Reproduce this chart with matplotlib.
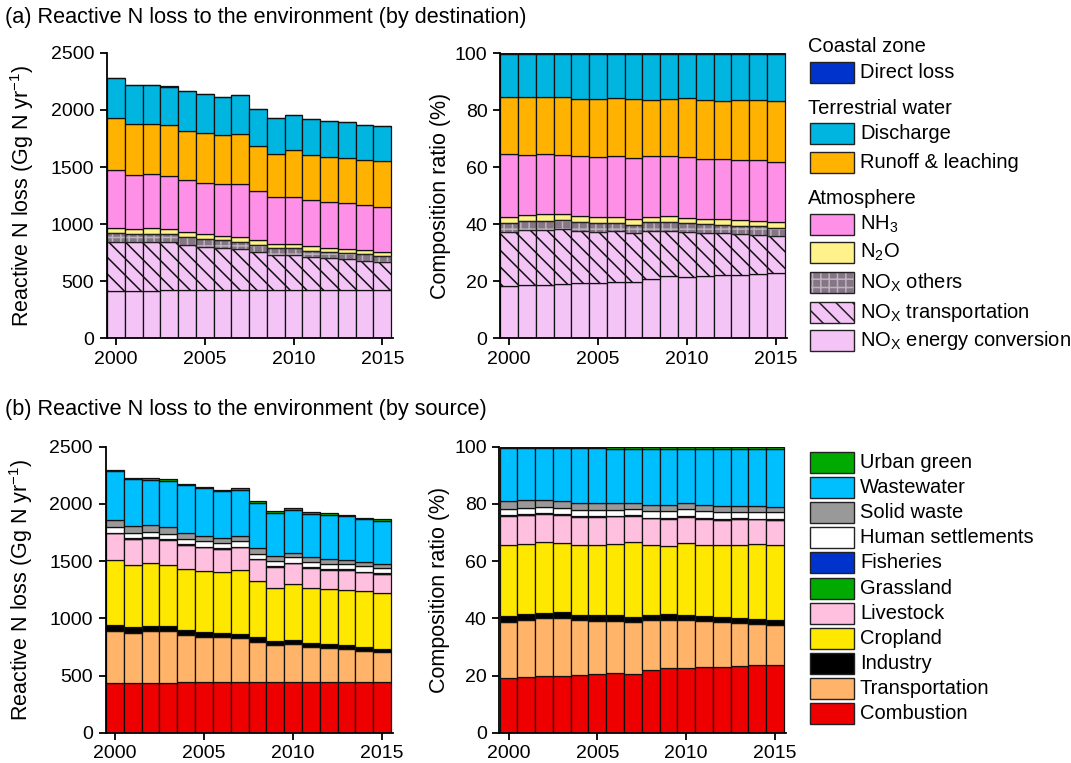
import numpy as np
import matplotlib
matplotlib.use("Agg")
import matplotlib.pyplot as plt
from matplotlib.patches import Rectangle

plt.rcParams['font.family'] = ['Liberation Sans', 'DejaVu Sans']
plt.rcParams['mathtext.fontset'] = 'custom'
plt.rcParams['mathtext.rm'] = 'Liberation Sans'
plt.rcParams['mathtext.it'] = 'Liberation Sans:italic'
plt.rcParams['hatch.linewidth'] = 1.1

years = list(range(2000, 2016))

# ---------------- Panel (a): by destination (Gg N / yr) ----------------
nox_energy = [418, 418, 418, 419, 419, 419, 420, 420, 421, 421, 421, 421, 422, 422, 422, 423]
nox_transport = [429, 423, 429, 428, 399, 384, 374, 365, 335, 306, 309, 291, 282, 273, 258, 245]
nox_others = [72, 70, 70, 67, 65, 65, 63, 62, 62, 60, 58, 55, 53, 53, 55, 55]
n2o = [50, 46, 47, 46, 45, 45, 42, 42, 40, 40, 40, 39, 38, 37, 35, 35]
nh3 = [506, 474, 473, 462, 459, 451, 453, 460, 430, 408, 413, 403, 402, 398, 398, 395]
runoff = [452, 444, 443, 444, 432, 438, 429, 444, 397, 383, 409, 397, 394, 400, 394, 398]
discharge = [349, 342, 337, 337, 343, 339, 331, 337, 325, 307, 304, 310, 314, 310, 308, 307]
direct_loss = [2, 2, 2, 2, 2, 2, 2, 2, 2, 2, 2, 2, 2, 2, 2, 2]

# ---------------- Panel (b): by source (Gg N / yr) ----------------
combustion = [437, 437, 438, 438, 439, 439, 440, 440, 441, 441, 441, 442, 442, 443, 443, 443]
transportation = [452, 437, 451, 448, 415, 400, 393, 385, 355, 325, 334, 310, 298, 288, 274, 259]
industry = [50, 46, 45, 45, 44, 43, 42, 40, 38, 36, 36, 35, 34, 33, 33, 32]
cropland = [570, 546, 546, 538, 530, 531, 527, 557, 495, 463, 489, 478, 482, 486, 488, 490]
livestock = [234, 227, 222, 218, 213, 207, 204, 198, 186, 186, 180, 177, 169, 172, 164, 163]
grassland = [4, 4, 4, 4, 4, 4, 4, 4, 4, 4, 4, 4, 4, 4, 4, 4]
fisheries = [2, 2, 2, 2, 2, 2, 2, 2, 2, 2, 2, 2, 2, 2, 2, 2]
human_settlements = [48, 50, 48, 47, 45, 46, 45, 46, 45, 44, 46, 45, 46, 44, 46, 46]
solid_waste = [62, 61, 56, 55, 51, 50, 48, 47, 45, 43, 42, 40, 41, 37, 38, 38]
wastewater = [425, 404, 399, 408, 419, 414, 405, 403, 397, 380, 375, 382, 384, 382, 373, 376]
urban_green = [12, 12, 12, 12, 12, 12, 14, 14, 14, 14, 14, 14, 15, 15, 15, 15]

# series: (label, values, facecolor, hatch)
series_a = [
    ("NO$_\\mathrm{X}$ energy conversion", nox_energy, "#F3C4F5", None),
    ("NO$_\\mathrm{X}$ transportation", nox_transport, "#F3C4F5", "\\\\"),
    ("NO$_\\mathrm{X}$ others", nox_others, "#857585", "++"),
    ("N$_2$O", n2o, "#FFF28A", None),
    ("NH$_3$", nh3, "#FF90E8", None),
    ("Runoff & leaching", runoff, "#FFB300", None),
    ("Discharge", discharge, "#00B5E0", None),
    ("Direct loss", direct_loss, "#0033CC", None),
]
series_b = [
    ("Combustion", combustion, "#EE0000", None),
    ("Transportation", transportation, "#FFB469", None),
    ("Industry", industry, "#000000", None),
    ("Cropland", cropland, "#FFE800", None),
    ("Livestock", livestock, "#FFBFDF", None),
    ("Grassland", grassland, "#00AA00", None),
    ("Fisheries", fisheries, "#0033CC", None),
    ("Human settlements", human_settlements, "#FFFFFF", None),
    ("Solid waste", solid_waste, "#999999", None),
    ("Wastewater", wastewater, "#00BFFF", None),
    ("Urban green", urban_green, "#00AA00", None),
]

W, H = 1071, 763
fig = plt.figure(figsize=(W / 100, H / 100), dpi=100)

def px_axes(x0, x1, ytop, ybot):
    return fig.add_axes([x0 / W, (H - ybot) / H, (x1 - x0) / W, (ybot - ytop) / H])

ax_a1 = px_axes(106.7, 393.3, 52.8, 338.3)
ax_a2 = px_axes(500.0, 786.7, 53.3, 338.3)
ax_b1 = px_axes(105.5, 393.3, 446.7, 732.7)
ax_b2 = px_axes(499.3, 786.0, 446.7, 732.7)

EDGE_LW = 0.9
HATCH_FG = "#BDB3BF"

def draw_stack(ax, series, percent=False):
    x = np.array(years)
    vals = [np.array(s[1], dtype=float) for s in series]
    total = np.sum(vals, axis=0)
    bottom = np.zeros(len(x))
    for (label, _, color, hatch), v in zip(series, vals):
        h = v / total * 100 if percent else v
        if hatch == "++":
            ax.bar(x, h, width=1.0, bottom=bottom, color=color, edgecolor=HATCH_FG,
                   hatch=hatch, linewidth=0, zorder=2)
            ax.bar(x, h, width=1.0, bottom=bottom, fill=False, edgecolor="#222222",
                   linewidth=EDGE_LW, zorder=3)
        else:
            ax.bar(x, h, width=1.0, bottom=bottom, color=color, edgecolor="#111111",
                   hatch=hatch, linewidth=EDGE_LW, zorder=2)
        bottom = bottom + h

def style(ax, percent):
    ax.set_xlim(1999.48, 2015.62)
    if percent:
        ax.set_ylim(0, 100)
        ax.set_yticks([0, 20, 40, 60, 80, 100])
    else:
        ax.set_ylim(0, 2500)
        ax.set_yticks([0, 500, 1000, 1500, 2000, 2500])
    ax.set_xticks([2000, 2005, 2010, 2015])
    for s in ("top", "right"):
        ax.spines[s].set_visible(False)
    for s in ("left", "bottom"):
        ax.spines[s].set_linewidth(1.3)
        ax.spines[s].set_zorder(5)
    ax.tick_params(direction="out", length=5, width=1.3, labelsize=14, pad=4)
    if percent:
        ax.set_ylabel("Composition ratio (%)", fontsize=15.5)
        ax.yaxis.set_label_coords(-0.172, 0.5)
    else:
        ax.set_ylabel("Reactive N loss (Gg N yr$^{-1}$)", fontsize=15.5)
        ax.yaxis.set_label_coords(-0.245, 0.5)

draw_stack(ax_a1, series_a)
draw_stack(ax_a2, series_a, percent=True)
draw_stack(ax_b1, series_b)
draw_stack(ax_b2, series_b, percent=True)
style(ax_a1, False)
style(ax_a2, True)
style(ax_b1, False)
style(ax_b2, True)

fig.text(5 / W, 1 - 18 / H, "(a) Reactive N loss to the environment (by destination)",
         fontsize=15.6, va="center", ha="left")
fig.text(5 / W, 1 - 410 / H, "(b) Reactive N loss to the environment (by source)",
         fontsize=15.6, va="center", ha="left")

# legends drawn in pixel coordinates on an overlay axes
ov = fig.add_axes([0, 0, 1, 1], zorder=10)
ov.set_xlim(0, W)
ov.set_ylim(H, 0)
ov.axis("off")

LEG_FS = 14.5

def leg_item(yc, color, hatch, label):
    if hatch == "++":
        ov.add_patch(Rectangle((810, yc - 10.5), 44, 21, facecolor=color, edgecolor=HATCH_FG,
                               hatch=hatch, linewidth=0))
        ov.add_patch(Rectangle((810, yc - 10.5), 44, 21, fill=False, edgecolor="#222222",
                               linewidth=1.0))
    else:
        ov.add_patch(Rectangle((810, yc - 10.5), 44, 21, facecolor=color, edgecolor="#222222",
                               hatch=hatch, linewidth=1.0))
    ov.text(860, yc, label, fontsize=LEG_FS, va="center", ha="left")

lookup_a = {s[0]: s for s in series_a}
ov.text(808, 47, "Coastal zone", fontsize=LEG_FS, va="center", ha="left")
ov.text(808, 108, "Terrestrial water", fontsize=LEG_FS, va="center", ha="left")
ov.text(808, 198, "Atmosphere", fontsize=LEG_FS, va="center", ha="left")
pos_a = {
    "Direct loss": 72.5,
    "Discharge": 133.5,
    "Runoff & leaching": 162.5,
    "NH$_3$": 224,
    "N$_2$O": 252.5,
    "NO$_\\mathrm{X}$ others": 282.5,
    "NO$_\\mathrm{X}$ transportation": 312.5,
    "NO$_\\mathrm{X}$ energy conversion": 340.5,
}
for label, yc in pos_a.items():
    s = lookup_a[label]
    leg_item(yc, s[2], s[3], label)

for i, s in enumerate(reversed(series_b)):
    leg_item(462.5 + i * 25.1, s[2], s[3], s[0])

fig.savefig("out.png", dpi=100)
